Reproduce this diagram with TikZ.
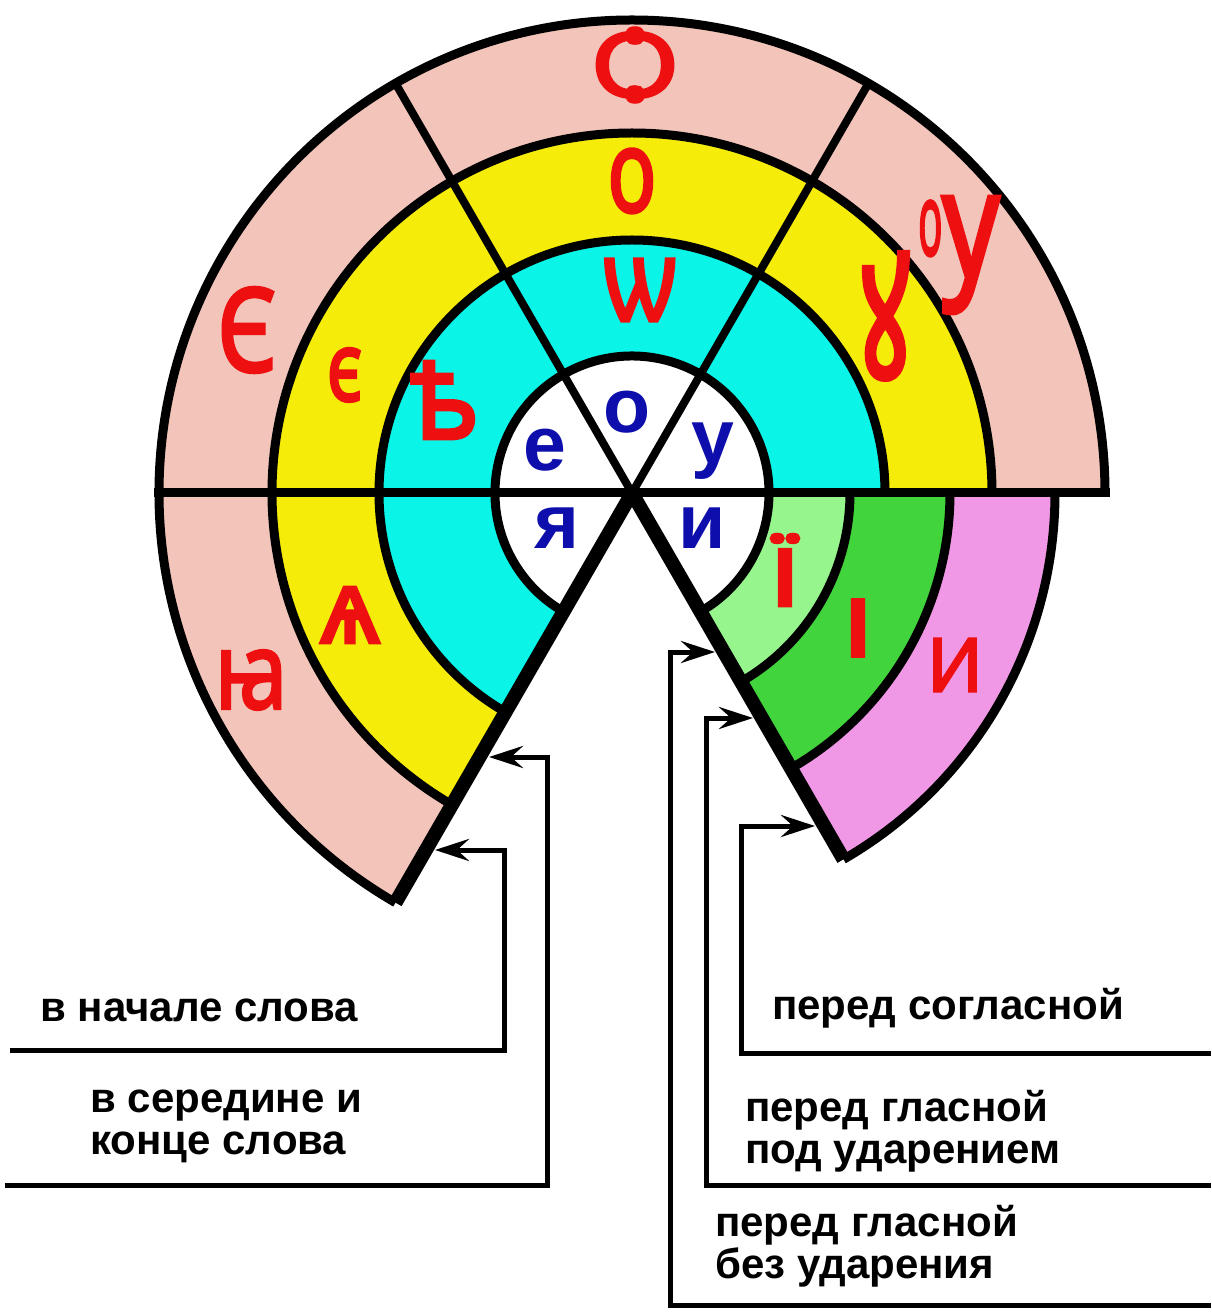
\documentclass[tikz,border=0pt]{standalone}
\usepackage{fontspec}
\setmainfont{Liberation Sans}
\newfontfamily\slav{Noto Sans}[FakeBold=3]
\usetikzlibrary{arrows.meta}
\definecolor{pinkc}{RGB}{242,196,186}
\definecolor{yellc}{RGB}{245,236,10}
\definecolor{cyanc}{RGB}{10,245,232}
\definecolor{lgreenc}{RGB}{150,245,140}
\definecolor{dgreenc}{RGB}{66,212,60}
\definecolor{violc}{RGB}{240,152,230}
\definecolor{redc}{RGB}{238,16,16}
\definecolor{bluec}{RGB}{14,14,172}
\begin{document}
\begin{tikzpicture}[x=1pt,y=1pt,
 ring/.style={draw=black,line width=9pt},
 spoke/.style={draw=black,line width=8pt},
 edgeline/.style={draw=black,line width=14pt},
 conn/.style={draw=black,line width=5pt,-{Stealth[length=34pt,width=22pt,inset=12pt]}},
 redl/.style={inner sep=0pt,text=redc},
 bluel/.style={inner sep=0pt,text=bluec,font=\bfseries\fontsize{77}{77}\selectfont},
 lbl/.style={inner sep=0pt,anchor=west,align=left,font=\bfseries\fontsize{42}{42}\selectfont}
]
\useasboundingbox (-632,-821) rectangle (579,493);
\def\Ra{137}\def\Rb{253}\def\Rc{360}\def\Rd{473}
\def\ga{218}\def\gb{318}\def\gc{423}
% fills
\fill[pinkc] (0,0) -- (0:\Rd) arc[start angle=0,end angle=240,radius=\Rd] -- cycle;
\fill[yellc] (0,0) -- (0:\Rc) arc[start angle=0,end angle=240,radius=\Rc] -- cycle;
\fill[cyanc] (0,0) -- (0:\Rb) arc[start angle=0,end angle=240,radius=\Rb] -- cycle;
\fill[violc] (0,0) -- (-60:\gc) arc[start angle=-60,end angle=0,radius=\gc] -- cycle;
\fill[dgreenc] (0,0) -- (-60:\gb) arc[start angle=-60,end angle=0,radius=\gb] -- cycle;
\fill[lgreenc] (0,0) -- (-60:\ga) arc[start angle=-60,end angle=0,radius=\ga] -- cycle;
\fill[white] (0,0) -- (-60:\Ra) arc[start angle=-60,end angle=240,radius=\Ra] -- cycle;
% outlines
\draw[ring] (0:\Rd) arc[start angle=0,end angle=240,radius=\Rd];
\draw[ring] (0:\Rc) arc[start angle=0,end angle=240,radius=\Rc];
\draw[ring] (0:\Rb) arc[start angle=0,end angle=240,radius=\Rb];
\draw[ring] (-60:\Ra) arc[start angle=-60,end angle=240,radius=\Ra];
\draw[ring] (-60:\ga) arc[start angle=-60,end angle=0,radius=\ga];
\draw[ring] (-60:\gb) arc[start angle=-60,end angle=0,radius=\gb];
\draw[ring] (-60:\gc) arc[start angle=-60,end angle=0,radius=\gc];
\draw[ring] (-\Rd-4.5,0) -- (\Rd+4.5,0);
\draw[spoke] (0,0) -- (60:\Rd);
\draw[spoke] (0,0) -- (120:\Rd);
\draw[edgeline] (0,0) -- (240:\Rd);
\draw[edgeline] (0,0) -- (300:\gc);
% letters
\node[redl,font=\slav\fontsize{90}{90}\selectfont] (romega) at (3,428) {\scalebox{1.2}[1]{Ѻ}};
\node[redl,font=\slav\fontsize{115}{115}\selectfont] (yo) at (0,312) {\scalebox{0.7}[1]{о}};
\node[redl,font=\slav\fontsize{115}{115}\selectfont] (comega) at (8,203) {\scalebox{0.8}[1]{ѡ}};
\node[bluel] (bo) at (-5,81) {о};
\node[redl,font=\slav\fontsize{116}{116}\selectfont] (pE) at (-385,163) {\scalebox{0.8}[1]{Є}};
\node[redl,font=\slav\fontsize{96}{96}\selectfont] (ye) at (-287,118) {\scalebox{0.75}[1]{є}};
\node[redl,font=\slav\fontsize{120}{120}\selectfont] (cyat) at (-187,93) {\scalebox{0.9}[1]{ѣ}};
\node[bluel] (be) at (-87,43) {е};
\node[bluel] (bu) at (81,42) {у};
\node[redl,font=\slav\fontsize{165}{165}\selectfont] (yuk) at (253,177) {\scalebox{0.65}[1]{ꙋ}};
\node[redl,font=\slav\fontsize{150}{150}\selectfont] (puk) at (327,238) {\raisebox{22pt}{\fontsize{100}{100}\selectfont\scalebox{0.4}[1]{о}}\scalebox{0.75}[1]{у}};
\node[redl,font=\slav\fontsize{106}{106}\selectfont] (pia) at (-381,-187) {\scalebox{0.8}[1]{ꙗ}};
\node[redl,font=\slav\fontsize{104}{104}\selectfont] (yyus) at (-282,-122) {ѧ};
\node[bluel] (bya) at (-75,-35) {я};
\node[bluel] (bi) at (70,-35) {и};
\node[redl,font=\slav\fontsize{80}{80}\selectfont] (gyi) at (153,-77) {\scalebox{1.5}[1]{Ї}};
\node[redl,font=\slav\fontsize{80}{80}\selectfont] (dgi) at (226,-135) {\scalebox{1.5}[1]{І}};
\node[redl,font=\slav\fontsize{74}{74}\selectfont] (vi) at (323,-172) {И};
% connectors
\coordinate (u1) at (-622,-557); \coordinate (k1) at (-127,-557); \coordinate (t1) at (-197,-357);
\coordinate (u2) at (-627,-692); \coordinate (k2) at (-84,-692); \coordinate (t2) at (-143,-264);
\coordinate (u3) at (579,-812); \coordinate (k3) at (38,-812); \coordinate (t3) at (83,-159);
\coordinate (u4) at (579,-692); \coordinate (k4) at (74,-692); \coordinate (t4) at (121,-225);
\coordinate (u5) at (579,-560); \coordinate (k5) at (109,-560); \coordinate (t5) at (183,-333);
\draw[conn] (u1) -- (k1) |- (t1);
\draw[conn] (u2) -- (k2) |- (t2);
\draw[conn] (u3) -- (k3) |- (t3);
\draw[conn] (u4) -- (k4) |- (t4);
\draw[conn] (u5) -- (k5) |- (t5);
% labels
\node[lbl] (l1) at (-592,-517) {в начале слова};
\node[lbl] (l2) at (-542,-633) {в середине и\\конце слова};
\node[lbl] (r1) at (140,-515) {перед согласной};
\node[lbl] (r2) at (113,-638) {перед гласной\\под ударением};
\node[lbl] (r3) at (83,-753) {перед гласной\\без ударения};
\end{tikzpicture}
\end{document}
